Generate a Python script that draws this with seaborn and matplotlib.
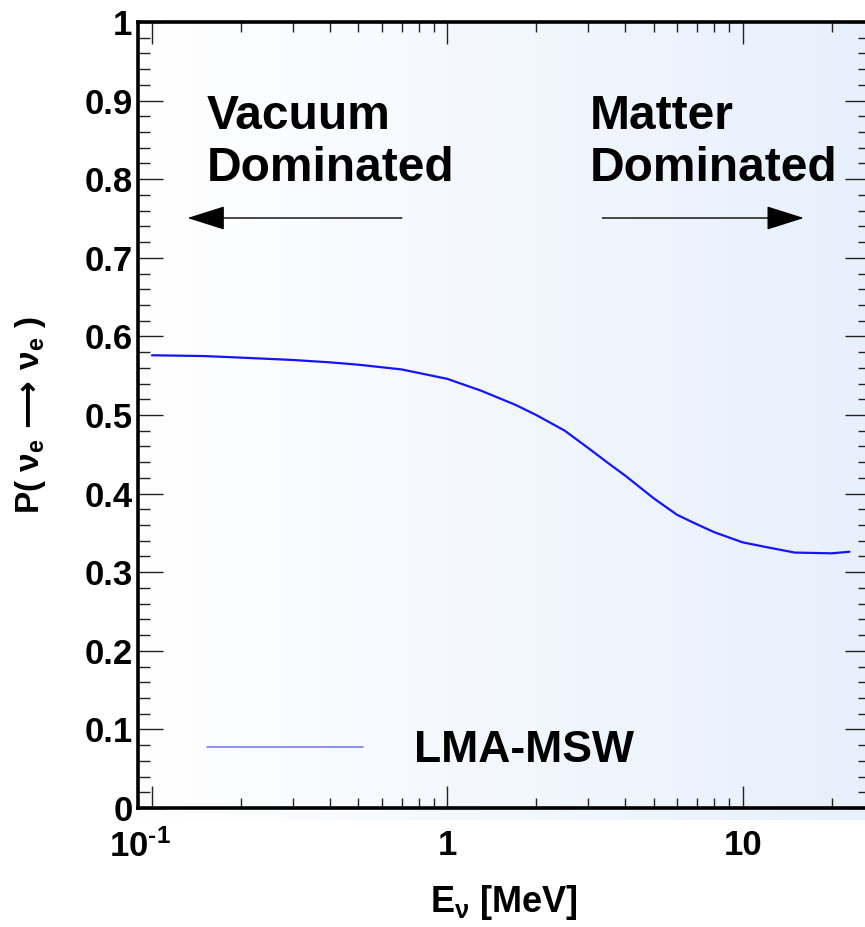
import numpy as np
import pandas as pd
import matplotlib
matplotlib.use("Agg")
import matplotlib.pyplot as plt
import matplotlib.ticker as mticker
from matplotlib.lines import Line2D
from matplotlib.transforms import ScaledTranslation
from matplotlib.colors import LinearSegmentedColormap
import seaborn as sns

# ---------------- data ----------------
energy_mev = [0.1, 0.15, 0.2, 0.3, 0.4, 0.5, 0.7, 1.0, 1.3, 1.7, 2.0, 2.5,
              3.0, 3.5, 4.0, 5.0, 6.0, 7.0, 8.0, 10.0, 12.0, 15.0, 20.0, 23.0]
survival_prob = [0.576, 0.575, 0.573, 0.570, 0.567, 0.564, 0.558, 0.546, 0.531,
                 0.513, 0.500, 0.480, 0.458, 0.439, 0.423, 0.394, 0.373, 0.361,
                 0.351, 0.338, 0.332, 0.325, 0.324, 0.326]
series_label = "LMA-MSW"
x_tick_values = [0.1, 1, 10]
x_tick_labels = [r"$\mathbf{10^{\text{-1}}}$", "1", "10"]
y_tick_values = [0, 0.1, 0.2, 0.3, 0.4, 0.5, 0.6, 0.7, 0.8, 0.9, 1]
y_tick_labels = ["0", "0.1", "0.2", "0.3", "0.4", "0.5", "0.6", "0.7", "0.8", "0.9", "1"]

df = pd.DataFrame({"E": energy_mev, "P": survival_prob, "model": series_label})

# ---------------- style ----------------
sns.set_style("white")
FAM = ["Liberation Sans", "DejaVu Sans"]
plt.rcParams["font.family"] = FAM
plt.rcParams["font.weight"] = "bold"
plt.rcParams["text.color"] = "black"
plt.rcParams["axes.labelcolor"] = "black"
plt.rcParams["xtick.color"] = "black"
plt.rcParams["ytick.color"] = "black"
plt.rcParams["axes.unicode_minus"] = False
plt.rcParams["mathtext.fontset"] = "custom"
plt.rcParams["mathtext.rm"] = "Liberation Sans:bold"
plt.rcParams["mathtext.bf"] = "Liberation Sans:bold"
plt.rcParams["mathtext.it"] = "Liberation Sans:bold"
plt.rcParams["mathtext.sf"] = "DejaVu Sans"

W, H = 865, 927
fig = plt.figure(figsize=(W / 100, H / 100), dpi=100)
ax_l, ax_r, ax_t, ax_b = 138, 870, 22, 808
ax = fig.add_axes([ax_l / W, 1 - ax_b / H, (ax_r - ax_l) / W, (ax_b - ax_t) / H])

# background gradient (white -> light blue)
grad = np.linspace(0, 1, 256).reshape(1, -1)
cmap = LinearSegmentedColormap.from_list("bg", ["#ffffff", "#e7f0fc"])
ax.imshow(grad, cmap=cmap, aspect="auto", extent=[0, 1, -0.015, 1],
          transform=ax.transAxes, zorder=0, clip_on=False)

sns.lineplot(data=df, x="E", y="P", ax=ax, color="#1414ff", linewidth=1.6,
             legend=False, zorder=3)

ax.set_xscale("log")
ax.set_xlim(0.0897, 27)
ax.set_ylim(0, 1)

ax.xaxis.set_major_locator(mticker.FixedLocator(x_tick_values))
ax.xaxis.set_major_formatter(mticker.FixedFormatter(x_tick_labels))
ax.xaxis.set_minor_locator(mticker.LogLocator(base=10, subs=np.arange(2, 10)))
ax.xaxis.set_minor_formatter(mticker.NullFormatter())
ax.yaxis.set_major_locator(mticker.FixedLocator(y_tick_values))
ax.yaxis.set_major_formatter(mticker.FixedFormatter(y_tick_labels))
ax.yaxis.set_minor_locator(mticker.MultipleLocator(0.02))

ax.tick_params(axis="y", which="major", direction="in", length=18, width=1.0,
               left=True, right=True, labelsize=25, pad=4, color="#222222",
               labelcolor="black")
ax.tick_params(axis="y", which="minor", direction="in", length=8.6, width=1.0,
               left=True, right=True, color="#222222")
ax.tick_params(axis="x", which="major", direction="in", length=16, width=1.0,
               bottom=True, top=True, labelsize=25, pad=15, color="#222222",
               labelcolor="black")
ax.tick_params(axis="x", which="minor", direction="in", length=7.5, width=1.0,
               bottom=True, top=True, color="#222222")
for lab in ax.get_xticklabels() + ax.get_yticklabels():
    lab.set_fontweight("bold")
# shift the 10^-1 label slightly left like the reference
xl = ax.get_xticklabels()
xl[0].set_transform(xl[0].get_transform() + ScaledTranslation(-0.12, 0, fig.dpi_scale_trans))

for s in ax.spines.values():
    s.set_linewidth(2.6)
    s.set_color("black")
    s.set_zorder(5)

ax.set_xlabel(r"E$_{\nu}$ [MeV]", fontsize=26, fontweight="bold")
ax.xaxis.set_label_coords(0.5, (ax_b - 883) / (ax_b - ax_t))
ax.set_ylabel(r"P( $\nu_{e}\,\mathsf{\longrightarrow}\,\nu_{e}$ )", fontsize=24, fontweight="bold")
ax.yaxis.set_label_coords((48 - ax_l) / (ax_r - ax_l), 0.5)


def px2x(px):
    return 10 ** ((px - 152) / 299.0 - 1)


def py2y(py):
    return (808 - py) / 786.0


ax.text(px2x(207), py2y(94), "Vacuum\nDominated", fontsize=34.5, fontweight="bold",
        ha="left", va="top", linespacing=1.2, zorder=4)
ax.text(px2x(595), py2y(94), "Matter\nDominated", fontsize=34.5, fontweight="bold",
        ha="left", va="top", linespacing=1.2, zorder=4)

arrow_kw = dict(arrowstyle="-|>,head_length=1.2,head_width=0.38", color="black",
                lw=1.0, shrinkA=0, shrinkB=0, mutation_scale=20)
ax.annotate("", xy=(px2x(188), py2y(218)), xytext=(px2x(405), py2y(218)),
            arrowprops=arrow_kw, zorder=4)
ax.annotate("", xy=(px2x(812), py2y(218)), xytext=(px2x(608), py2y(218)),
            arrowprops=arrow_kw, zorder=4)

handle = Line2D([], [], color="#7a7af2", linewidth=1.2)
leg = ax.legend([handle], [series_label], loc="center left",
                bbox_to_anchor=((207 - ax_l) / (ax_r - ax_l), py2y(751)),
                frameon=False, handlelength=3.5, handletextpad=1.15,
                borderpad=0, borderaxespad=0,
                prop={"family": FAM, "weight": "bold", "size": 32})
for t in leg.get_texts():
    t.set_color("black")

fig.savefig("out.png", dpi=100)
